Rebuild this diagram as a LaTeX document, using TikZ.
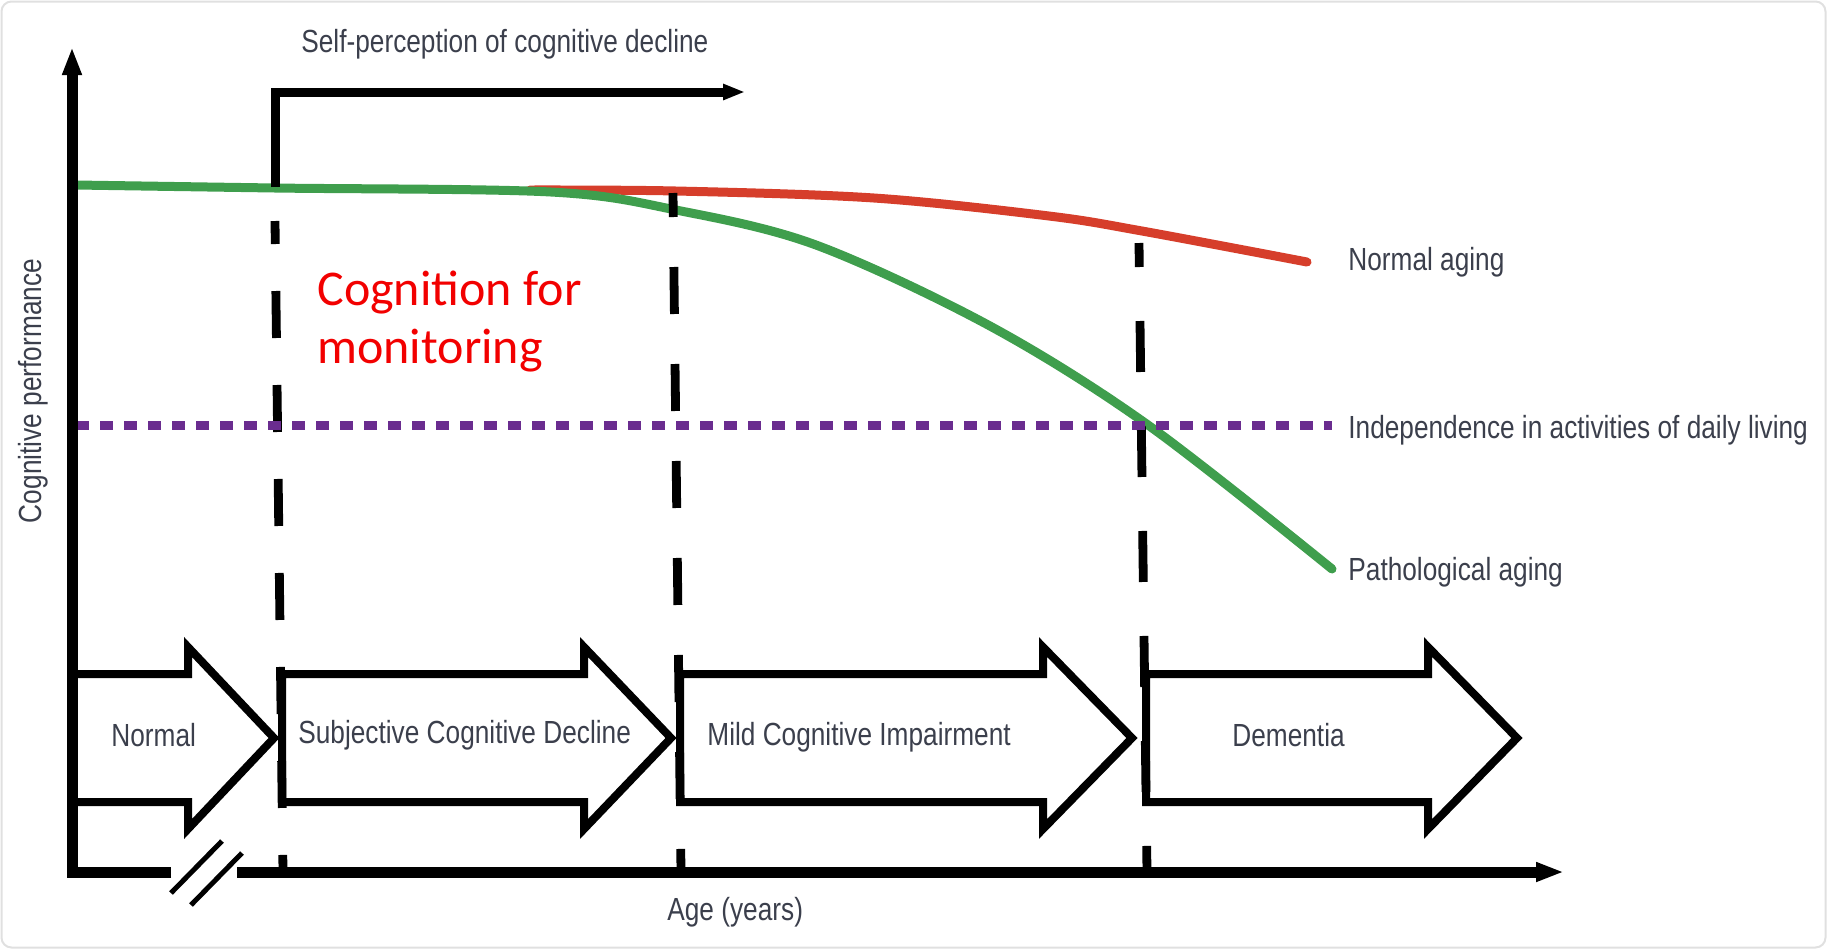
\documentclass[tikz,border=0pt]{standalone}
\usepackage{fontspec}
\setmainfont{Liberation Sans}
\newfontfamily\narrowfont[FakeStretch=0.82]{Liberation Sans}
\newfontfamily\notefont{Carlito}
\usetikzlibrary{arrows.meta}
\definecolor{cgreen}{HTML}{3F9E4D}
\definecolor{cred}{HTML}{D63E2B}
\definecolor{cpurple}{HTML}{6A2C8F}
\definecolor{ctext}{HTML}{3B3F4C}
\definecolor{cnote}{HTML}{F20000}
\definecolor{cframe}{HTML}{E0E0E0}
\tikzset{
  every picture/.style={line join=miter},
  label text/.style={font=\narrowfont\fontsize{16}{19}\selectfont, text=ctext, inner sep=0pt},
  axis/.style={line width=5.5pt, -{Triangle[length=14pt, width=9pt]}},
  stage/.style={draw=black, line width=4pt, line join=miter},
  phase line/.style={line width=4.4pt},
  curve/.style={line width=4.5pt, line cap=round},
  adl/.style={draw=cpurple, line width=4.5pt, dash pattern=on 6.5pt off 5.5pt},
}

\begin{document}
\begin{tikzpicture}[x=0.5pt, y=-0.5pt]
  \useasboundingbox (0,0) rectangle (1827,949);
  \draw[cframe, line width=1pt, rounded corners=5pt] (1.5,1.5) rectangle (1825.5,947.5);
  % the four stages
  \foreach \name/\l/\b/\t/\x/\y/\txt in {normal/72/188/274/111/746/Normal,
      scd/282/584/671/298/743/Subjective Cognitive Decline,
      mci/680/1043/1132/707/745/Mild Cognitive Impairment,
      dementia/1146/1428/1517/1232/746/Dementia} {
    \draw[stage] (\l,674) -- (\b,674) -- (\b,647) -- (\t,738) -- (\b,829) -- (\b,802) -- (\l,802) -- cycle;
    \node[label text, anchor=base west] (\name) at (\x,\y) {\txt};
  }
  % curves
  \draw[curve, cred] plot[smooth, tension=0.55] coordinates {(530,190) (676,191) (874,198) (1049,216) (1142,231) (1307,262)};
  \draw[curve, cgreen] plot[smooth, tension=0.55] coordinates {(76,185) (275,188) (551,192) (676,210) (816,245) (990,326) (1148,425) (1332,569)};
  % stage borders
  \draw[phase line, dash pattern=on 23.5pt off 23.5pt, dash phase=12pt] (275,221) -- (283,872);
  \draw[phase line, dash pattern=on 23.5pt off 25pt, dash phase=11.5pt] (673,193) -- (681,872);
  \draw[phase line, dash pattern=on 25.5pt off 27pt, dash phase=13.5pt] (1139,243) -- (1147,872);
  \draw[adl] (76,425) -- (1332,425);
  % self-perception
  \draw[line width=4.5pt, -{Triangle[length=11pt, width=7.5pt]}] (275,187) -- (275,92) -- (745,92);
  \node[label text, anchor=base west] (selfperc) at (301,52) {Self-perception of cognitive decline};
  % axes
  \draw[axis] (171,872) -- (72,872) -- (72,47);
  \draw[axis] (237,872) -- (1564,872);
  \draw[line width=2.5pt] (171,893) -- (222,841);
  \draw[line width=2.5pt] (191,905) -- (242,853);
  \node[label text, anchor=base west] (agelabel) at (667,920) {Age (years)};
  \node[label text, rotate=90] (perflabel) at (33,391) {Cognitive performance};
  % curve labels
  \node[label text, anchor=base west] (normalaging) at (1348,270) {Normal aging};
  \node[label text, anchor=base west] (adllabel) at (1348,438) {Independence in activities of daily living};
  \node[label text, anchor=base west] (pathaging) at (1348,580) {Pathological aging};
  \node[anchor=north west, inner sep=0pt, align=left, text=cnote, font=\notefont\fontsize{25}{29}\selectfont] (monitor) at (317,271) {Cognition for\\monitoring};
\end{tikzpicture}
\end{document}
